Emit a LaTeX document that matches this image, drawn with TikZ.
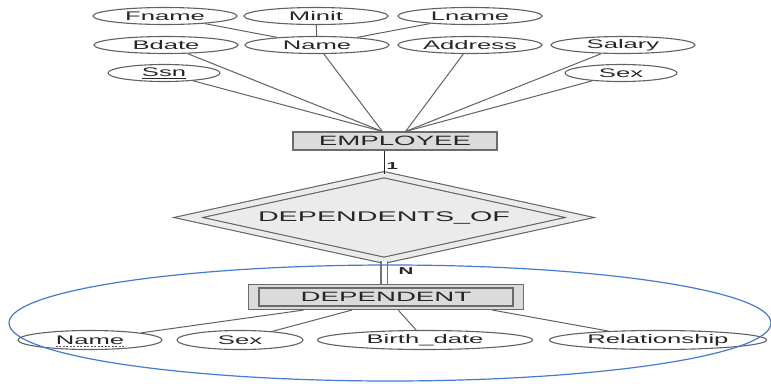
\documentclass[tikz,border=0pt]{standalone}
\usepackage{fontspec}
\setmainfont{Liberation Sans}[FakeStretch=2.05]
\usetikzlibrary{positioning, shapes.geometric}
\definecolor{grpblue}{RGB}{66,122,214}

\begin{document}
\begin{tikzpicture}[
    x=1pt, y=-1pt,
    attr/.style={ellipse, draw=black!62, line width=1.1pt, inner sep=0pt,
                 minimum width=144pt, minimum height=17pt, text=black!85,
                 font=\fontsize{12.5}{14}\selectfont},
    entity/.style={rectangle, draw=black!58, fill=black!14, line width=1.1pt,
                   inner sep=0pt, text=black!85, font=\fontsize{13.5}{15}\selectfont},
    relship/.style={diamond, draw=black!62, fill=black!8, line width=1.1pt,
                    double=black!8, double distance=5pt, inner sep=0pt,
                    shape aspect=4.56, minimum width=392pt, minimum height=86pt,
                    text=black!85, font=\fontsize{14}{16}\selectfont},
    link/.style={draw=black!62, line width=1pt},
    card/.style={inner sep=0pt, text=black!85, font=\fontsize{10}{12}\selectfont\bfseries}
  ]
    \useasboundingbox (0,0) rectangle (771,383);

    % EMPLOYEE attributes
    \node[attr] (fname) at (165,16) {Fname};
    \node[attr] (minit) at (316,16) {Minit};
    \node[attr] (lname) at (470,16) {Lname};
    \node[attr] (bdate) at (166,45) {Bdate};
    \node[attr] (ename) at (317,45) {Name};
    \node[attr] (addr)  at (470,45) {Address};
    \node[attr] (salary) at (623,45) {Salary};
    \node[attr, minimum width=112pt] (ssn)  at (164,73) {\underline{Ssn}};
    \node[attr, minimum width=112pt] (esex) at (621,73) {Sex};

    % Entities and relationship
    \node[entity, minimum width=204pt, minimum height=18pt] (emp) at (395,141) {EMPLOYEE};
    \node[relship] (depof) at (384,217.5) {DEPENDENTS\_OF};
    \node[entity, minimum width=275pt, minimum height=25pt] (dep) at (386,297) {DEPENDENT};
    \node[draw=black!58, line width=1.1pt, minimum width=254pt, minimum height=18pt,
          inner sep=0pt] (depin) at (dep) {};

    % DEPENDENT attributes
    \node[attr, minimum height=19pt] (dname) at (90,340) {};
    \node[inner sep=0pt, text=black!85, font=\fontsize{12.5}{14}\selectfont] (dnametxt) at (dname) {Name};
    \draw[black!65, line width=0.7pt, dash pattern=on 2pt off 1.5pt]
        ([yshift=-2pt]dnametxt.base west) -- ([yshift=-2pt]dnametxt.base east);
    \node[attr, minimum height=19pt, minimum width=126pt] (dsex) at (240,340) {Sex};
    \node[attr, minimum height=19pt, minimum width=215pt] (bdatedep) at (425,340) {Birth\_date};
    \node[attr, minimum height=19pt, minimum width=217pt] (relat) at (658,340) {Relationship};

    % Composite attribute
    \draw[link] (fname) -- (ename);
    \draw[link] (minit) -- (ename);
    \draw[link] (lname) -- (ename);

    % Attributes to EMPLOYEE
    \draw[link] (ssn)    -- (emp.143);
    \draw[link] (bdate)  -- (emp.143);
    \draw[link] (ename)  -- (emp.143);
    \draw[link] (addr)   -- (emp.42);
    \draw[link] (salary) -- (emp.42);
    \draw[link] (esex)   -- (emp.42);

    % Participation
    \draw[link, draw=black!85] (depof.north) -- (depof.north |- emp.south)
        node[card, pos=0.35, right=2pt] {1};
    \draw[draw=black!55, line width=1.4pt, double=white, double distance=5pt]
        (depof.south) -- (depof.south |- dep.north)
        node[card, pos=0.45, right=14pt] {N};

    % Attributes to DEPENDENT
    \draw[link] (dname)    -- (dep.189);
    \draw[link] (dsex)     -- (dep.201);
    \draw[link] (bdatedep) -- (dep.-47);
    \draw[link] (relat)    -- (dep.-7);

    % Weak entity grouping
    \node[ellipse, draw=grpblue, line width=1.2pt, inner sep=0pt,
          minimum width=762pt, minimum height=116pt] (weakgrp) at (390,323) {};
  \end{tikzpicture}
\end{document}
